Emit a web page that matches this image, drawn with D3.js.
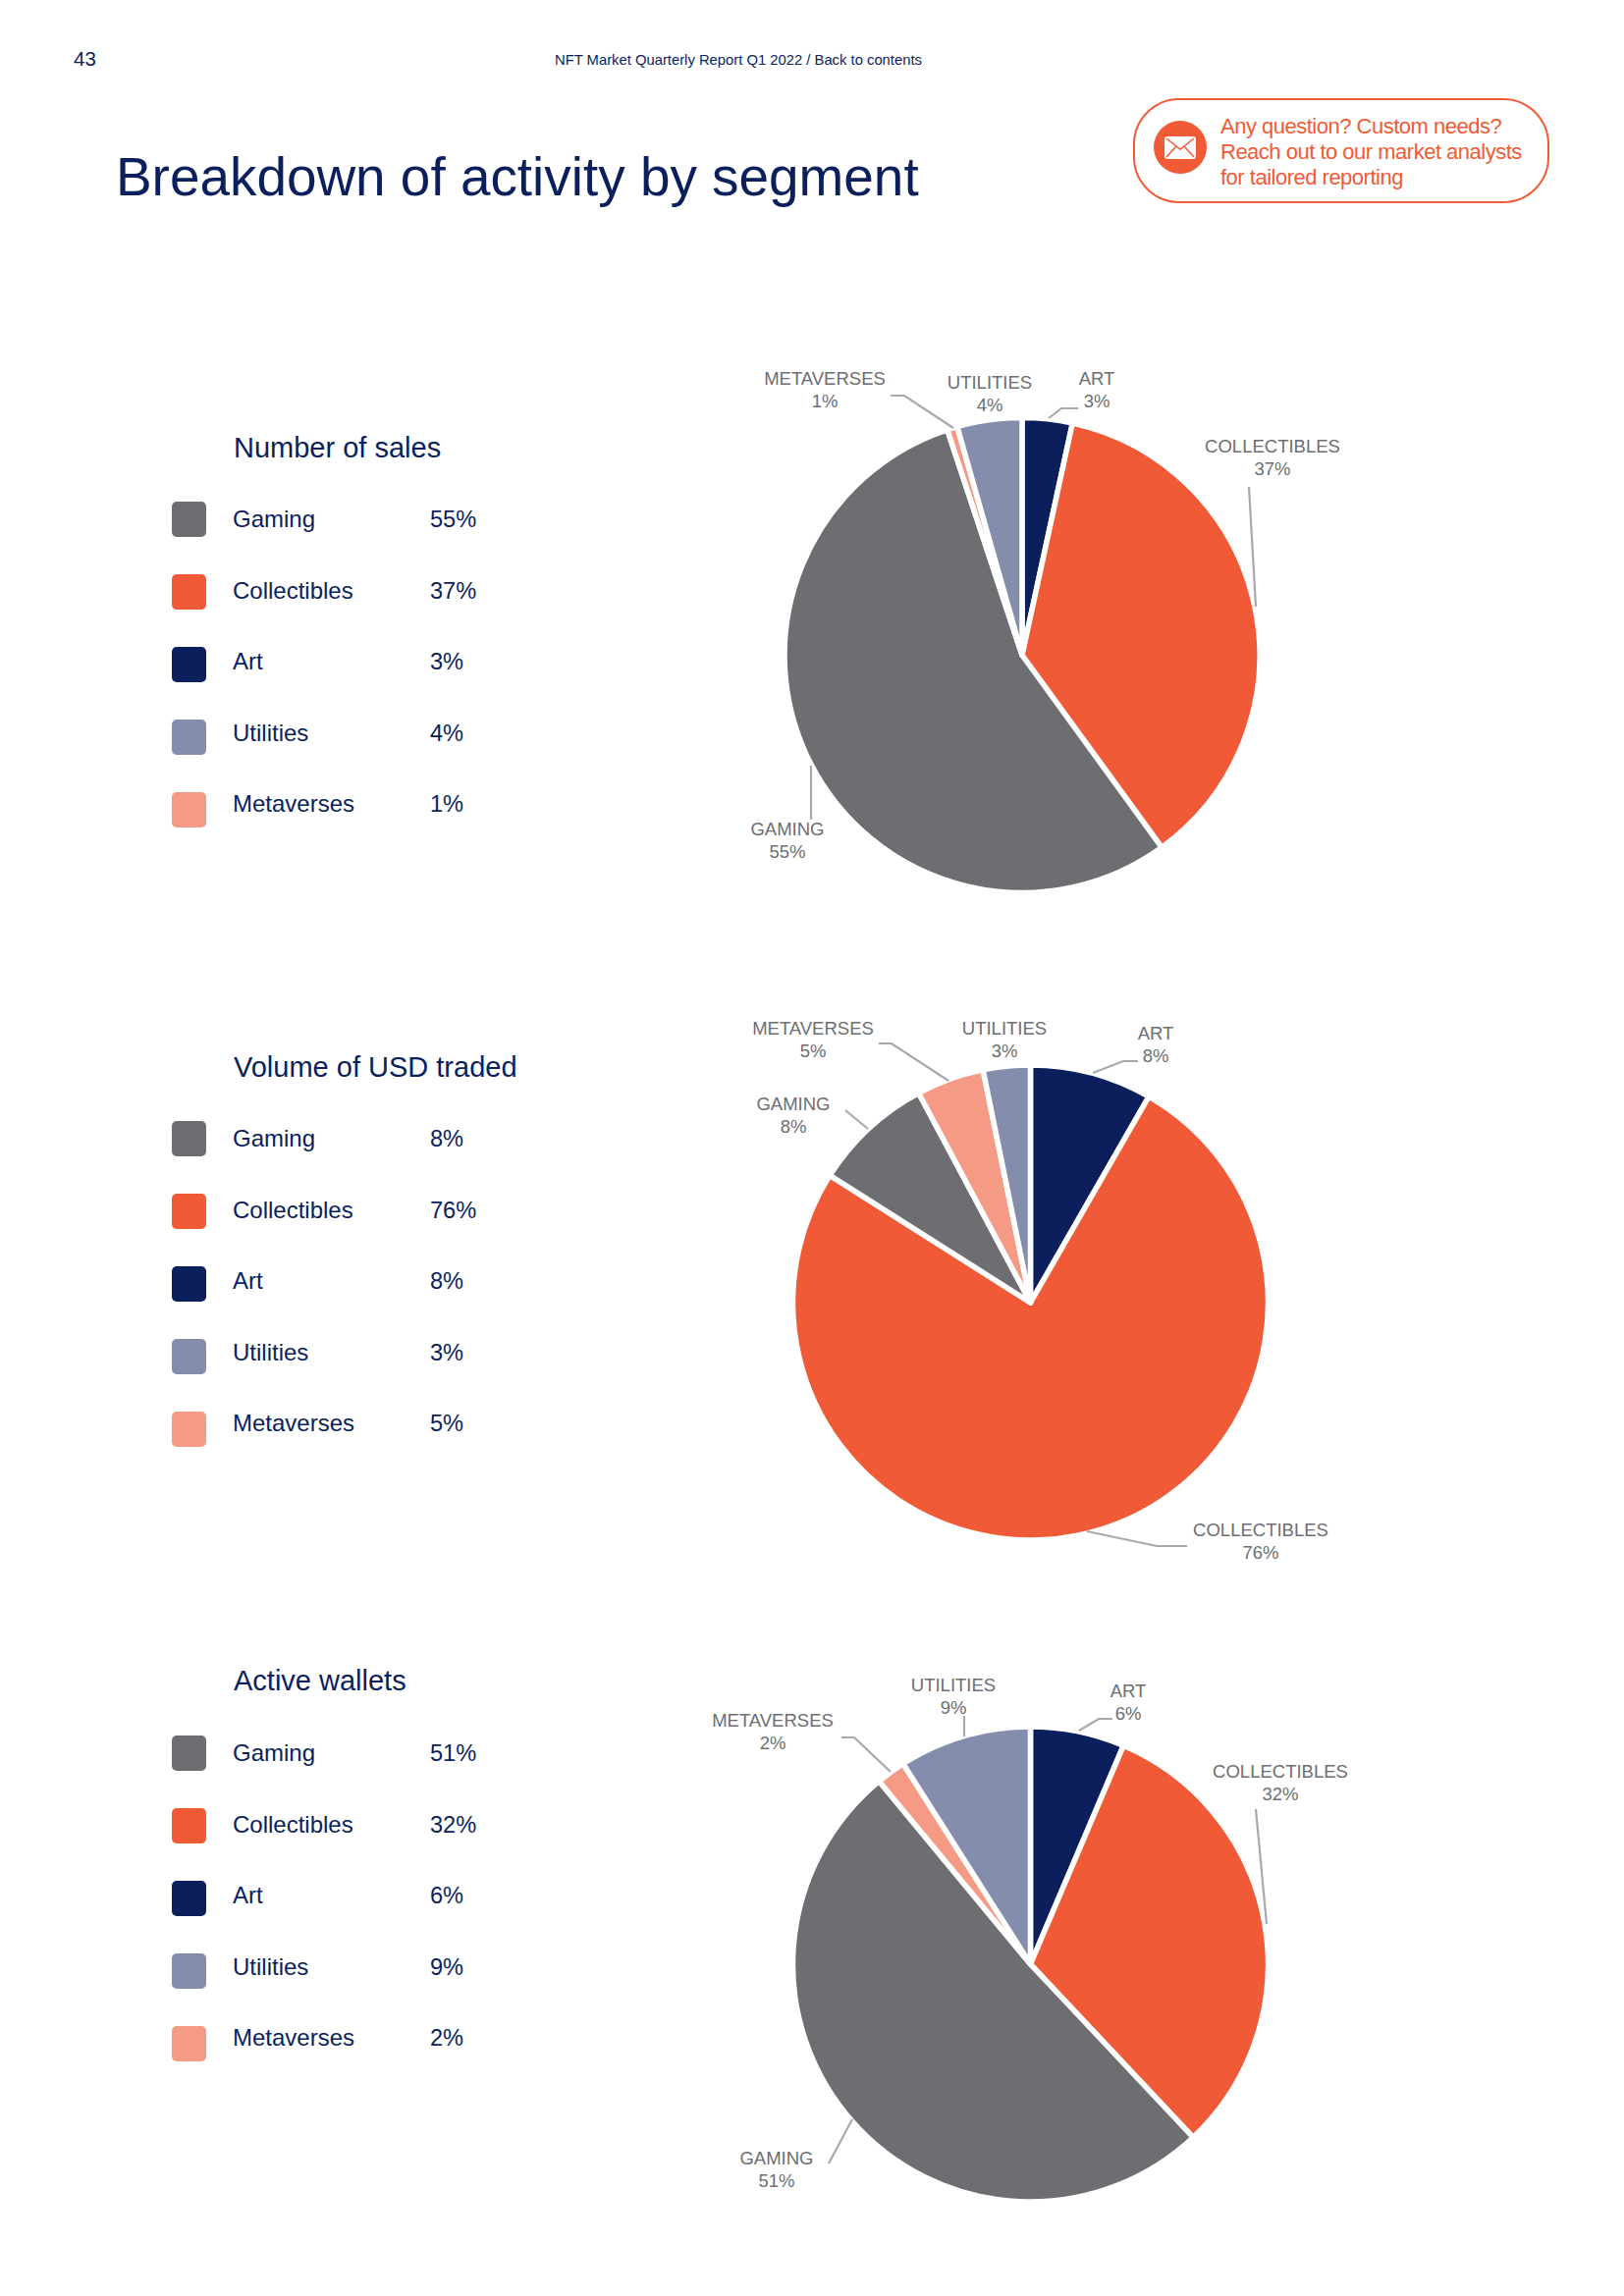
<!DOCTYPE html>
<html>
<head>
<meta charset="utf-8">
<script src="https://cdn.jsdelivr.net/npm/d3@7"></script>
<style>
  html, body { margin: 0; background: #fff; }
  svg { display: block; }
  text { font-family: "Liberation Sans", Arial, sans-serif; }
</style>
</head>
<body>
<div id="page"></div>
<script>
const categories = ['Art', 'Collectibles', 'Gaming', 'Metaverses', 'Utilities'];
const legendOrder = ['Gaming', 'Collectibles', 'Art', 'Utilities', 'Metaverses'];
// slice sizes as measured off the pies, printed rounded in the labels
const salesValues = [3.4, 36.6, 54.9, 0.7, 4.4];
const volumeValues = [8.3, 75.7, 8.2, 4.6, 3.2];
const walletValues = [6.4, 31.6, 51, 2, 9];
const chartTitles = ['Number of sales', 'Volume of USD traded', 'Active wallets'];
const segmentColors = ['#0a1f5c', '#f15a36', '#6d6e71', '#f59a85', '#858dad'];

const NAVY = '#0a1f5c';
const ORANGE = '#f15a36';

// Hand placed label and leader positions, one row per pie
const layouts = [
  {
    cx: 1041, cy: 667.5, titleY: 466, legendY: 511,
    labels: {
      Metaverses: { x: 840, y: 392, line: [[907, 403], [921, 403], [971, 436]] },
      Utilities: { x: 1008, y: 396 },
      Art: { x: 1117, y: 392, line: [[1068, 426], [1081, 416], [1098, 416]] },
      Collectibles: { x: 1296, y: 461, line: [[1272, 496], [1279, 618]] },
      Gaming: { x: 802, y: 851, line: [[826, 780], [826, 835]] },
    },
  },
  {
    cx: 1049.5, cy: 1327, titleY: 1097, legendY: 1142,
    labels: {
      Metaverses: { x: 828, y: 1054, line: [[895, 1063], [908, 1063], [966, 1101]] },
      Utilities: { x: 1023, y: 1054 },
      Art: { x: 1177, y: 1059, line: [[1113, 1093], [1144, 1081], [1159, 1081]] },
      Collectibles: { x: 1284, y: 1565, line: [[1107, 1560], [1178, 1575], [1209, 1575]] },
      Gaming: { x: 808, y: 1131, line: [[861, 1131], [884, 1150]] },
    },
  },
  {
    cx: 1049.5, cy: 2001, titleY: 1722, legendY: 1768,
    labels: {
      Metaverses: { x: 787, y: 1759, line: [[857, 1770], [870, 1770], [907, 1805]] },
      Utilities: { x: 971, y: 1723, line: [[982, 1748], [982, 1769]] },
      Art: { x: 1149, y: 1729, line: [[1099, 1763], [1119, 1751], [1133, 1751]] },
      Collectibles: { x: 1304, y: 1811, line: [[1279, 1843], [1290, 1960]] },
      Gaming: { x: 791, y: 2205, line: [[844, 2204], [868, 2159]] },
    },
  },
];

const svg = d3.select('#page').append('svg')
  .attr('width', 1654)
  .attr('height', 2339);

// --- Page header ---
svg.append('text').attr('x', 75).attr('y', 67).text('43')
  .attr('fill', NAVY).style('font-size', '20.5px');
svg.append('text').attr('x', 565).attr('y', 66).text('NFT Market Quarterly Report Q1 2022 / Back to contents')
  .attr('fill', NAVY).style('font-size', '14.8px');
svg.append('text').attr('x', 118).attr('y', 199).text('Breakdown of activity by segment')
  .attr('fill', NAVY).style('font-size', '54.9px');

// --- Contact callout ---
const callout = svg.append('g');
callout.append('rect')
  .attr('x', 1155).attr('y', 101).attr('width', 422).attr('height', 105).attr('rx', 46)
  .attr('fill', '#fff').attr('stroke', ORANGE).attr('stroke-width', 2);
callout.append('circle').attr('cx', 1202).attr('cy', 150).attr('r', 27).attr('fill', ORANGE);
callout.append('rect')
  .attr('x', 1186).attr('y', 139).attr('width', 32).attr('height', 23).attr('rx', 3)
  .attr('fill', '#fff');
callout.append('path')
  .attr('d', 'M1188,141L1202,152L1216,141M1188,160L1198,149M1216,160L1206,149')
  .attr('fill', 'none').attr('stroke', ORANGE).attr('stroke-width', 1.5);
['Any question? Custom needs?', 'Reach out to our market analysts', 'for tailored reporting'].forEach((line, i) => {
  callout.append('text').attr('x', 1243).attr('y', 136 + i * 26).text(line)
    .attr('fill', ORANGE).style('font-size', '22px').style('letter-spacing', '-0.5px');
});

// --- Legend + pie per metric ---
const pie = d3.pie().sort(null).value(d => d.value);
const arc = d3.arc().innerRadius(0).outerRadius(242);
const colorScale = d3.scaleOrdinal().domain(categories).range(segmentColors);
// swatches step a bit wider than the text rows in the original
const swatchScale = d3.scalePoint().domain(legendOrder).range([0, 296]);
const rowScale = d3.scalePoint().domain(legendOrder).range([0, 290]);
const pct = (v) => `${Math.round(v)}%`;

[salesValues, volumeValues, walletValues].forEach((values, idx) => {
  const layout = layouts[idx];
  const rows = categories.map((name, i) => ({ name, value: values[i] }));

  // Legend
  const legend = svg.append('g');
  legend.append('text').attr('x', 238).attr('y', layout.titleY).text(chartTitles[idx])
    .attr('fill', NAVY).style('font-size', '29px');

  const legendRows = legendOrder.map(n => rows.find(r => r.name === n));
  legend.selectAll('.swatch').data(legendRows)
    .join('rect').attr('class', 'swatch')
    .attr('x', 175).attr('y', d => layout.legendY + swatchScale(d.name))
    .attr('width', 35).attr('height', 36).attr('rx', 5)
    .attr('fill', d => colorScale(d.name));
  legend.selectAll('.name').data(legendRows)
    .join('text').attr('class', 'name')
    .attr('x', 237).attr('y', d => layout.legendY + 26 + rowScale(d.name))
    .text(d => d.name)
    .attr('fill', NAVY).style('font-size', '24px');
  legend.selectAll('.share').data(legendRows)
    .join('text').attr('class', 'share')
    .attr('x', 438).attr('y', d => layout.legendY + 26 + rowScale(d.name))
    .text(d => pct(d.value))
    .attr('fill', NAVY).style('font-size', '23.6px');

  // Pie
  const g = svg.append('g').attr('transform', `translate(${layout.cx},${layout.cy})`);
  g.selectAll('path').data(pie(rows))
    .join('path')
    .attr('d', arc)
    .attr('fill', d => colorScale(d.data.name))
    .attr('stroke', '#fff')
    .attr('stroke-width', 5.5)
    .attr('stroke-linejoin', 'round');

  // Leader lines and callout labels
  const line = d3.line();
  rows.forEach(r => {
    const lab = layout.labels[r.name];
    if (lab.line) {
      svg.append('path').attr('d', line(lab.line))
        .attr('fill', 'none').attr('stroke', '#a7a9ac').attr('stroke-width', 2.2);
    }
    const t = svg.append('text').attr('text-anchor', 'middle')
      .attr('fill', '#6d6e71').style('font-size', '18.5px');
    t.append('tspan').attr('x', lab.x).attr('y', lab.y).text(r.name.toUpperCase());
    t.append('tspan').attr('x', lab.x).attr('y', lab.y + 23).text(pct(r.value));
  });
});
</script>
</body>
</html>
